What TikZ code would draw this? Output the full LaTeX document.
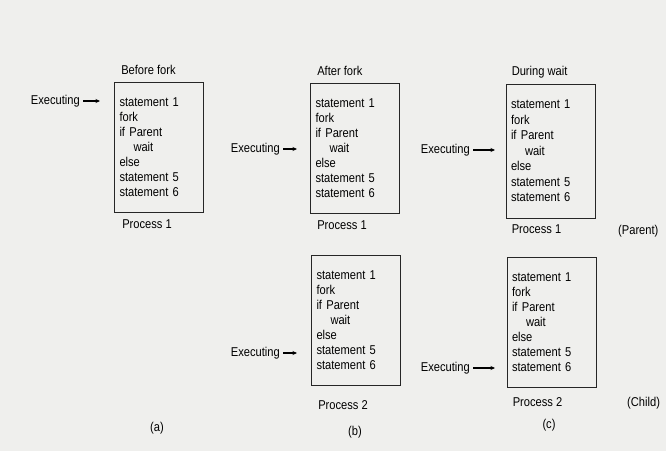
\documentclass[tikz,border=0pt]{standalone}
\usepackage{fontspec}
\setmainfont[FakeStretch=0.87]{Liberation Sans}
\usetikzlibrary{positioning,arrows.meta}
\definecolor{paper}{RGB}{239,239,237}
\newcommand{\forkcode}{statement 1\\fork\\if Parent\\\hspace*{14pt}wait\\else\\statement 5\\statement 6}

\begin{document}
\begin{tikzpicture}[x=1pt, y=-1pt,
    prog/.style = {draw=black!85, line width=0.9pt, minimum width=89pt, minimum height=130pt,
                   text width=79pt, align=left, inner sep=0pt, font=\fontsize{12.8}{15}\selectfont},
    lbl/.style = {inner sep=0pt, font=\fontsize{12.8}{14}\selectfont},
    run/.style = {-{Stealth[length=4.5pt, width=4pt]}, line width=1.1pt, shorten <=3pt}]
    \useasboundingbox[fill=paper] (0,0) rectangle (666,451);
    % (a) before fork
    \node[prog] (befP) at (159,147.5) {\forkcode};
    \node[lbl, above right=8pt and 7pt of befP.north west, anchor=base west] (befT) {Before fork};
    \node[lbl, below right=16pt and 8pt of befP.south west, anchor=base west] (befN) {Process 1};
    \coordinate (befX) at (100,101);
    \node[lbl, left=20pt of befX] (befE) {Executing};
    \draw[run] (befE) -- (befX);
    \node[lbl] (capA) at (157,428) {(a)};
    % (b) after fork
    \node[prog] (aftP) at (355,148) {\forkcode};
    \node[lbl, above right=7pt and 7pt of aftP.north west, anchor=base west] (aftT) {After fork};
    \node[lbl, below right=16pt and 7pt of aftP.south west, anchor=base west] (aftN) {Process 1};
    \coordinate (aftX) at (297,149);
    \node[lbl, left=17pt of aftX] (aftE) {Executing};
    \draw[run] (aftE) -- (aftX);
    \node[prog] (aftC) at (356,320) {\forkcode};
    \node[lbl, below right=24pt and 7pt of aftC.south west, anchor=base west] (aftM) {Process 2};
    \coordinate (aftY) at (297,353);
    \node[lbl, left=17pt of aftY] (aftF) {Executing};
    \draw[run] (aftF) -- (aftY);
    \node[lbl] (capB) at (355,432) {(b)};
    % (c) during wait
    \node[prog, minimum height=134pt, font=\fontsize{12.8}{15.5}\selectfont] (waitP) at (550.5,151) {\forkcode};
    \node[lbl, above right=8pt and 6pt of waitP.north west, anchor=base west] (waitT) {During wait};
    \node[lbl, below right=15pt and 6pt of waitP.south west, anchor=base west] (waitN) {Process 1};
    \node[lbl, anchor=base west] (waitR) at (618,234) {(Parent)};
    \coordinate (waitX) at (495,150);
    \node[lbl, left=25pt of waitX] (waitE) {Executing};
    \draw[run] (waitE) -- (waitX);
    \node[prog] (waitC) at (551.5,322) {\forkcode};
    \node[lbl, below right=19pt and 6pt of waitC.south west, anchor=base west] (waitM) {Process 2};
    \node[lbl, anchor=base west] (waitS) at (627,406) {(Child)};
    \coordinate (waitY) at (495,368);
    \node[lbl, left=25pt of waitY] (waitF) {Executing};
    \draw[run] (waitF) -- (waitY);
    \node[lbl] (capC) at (549,425) {(c)};
\end{tikzpicture}
\end{document}
